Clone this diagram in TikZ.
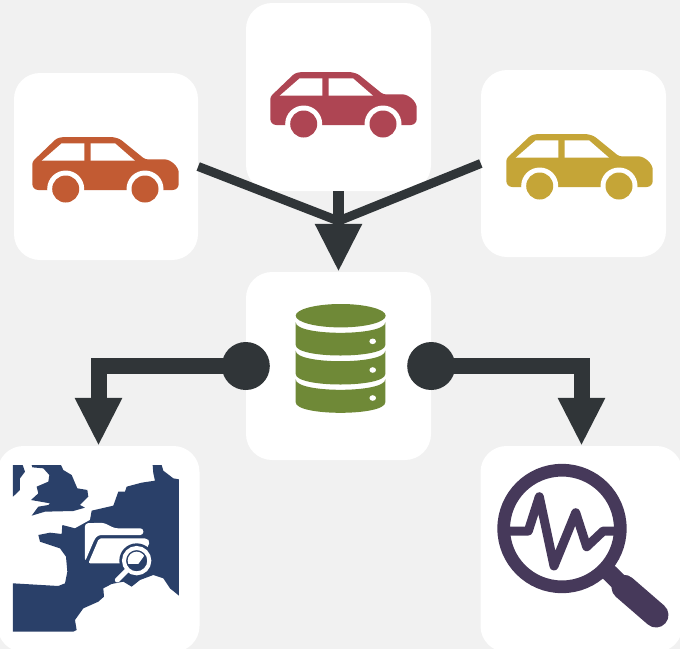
\documentclass[tikz,border=0pt]{standalone}
\usepackage{amsmath,amssymb}
\usetikzlibrary{arrows.meta}
\definecolor{pagegray}{HTML}{F1F1F1}
\definecolor{arrowdark}{HTML}{303538}
\definecolor{caredorange}{HTML}{C25B33}
\definecolor{carred}{HTML}{AE4553}
\definecolor{caryellow}{HTML}{C5A537}
\definecolor{dbgreen}{HTML}{6F8937}
\definecolor{mapblue}{HTML}{2A4069}
\definecolor{lenspurple}{HTML}{46395A}
\tikzset{
  card/.style={fill=white, rounded corners=26pt, inner sep=0pt},
  dot/.style={circle, fill=arrowdark, minimum size=48pt, inner sep=0pt},
  thinfeed/.style={arrowdark, line width=9pt},
  fatarrow/.style={arrowdark, line width=16pt, -{Triangle[length=48pt,width=44pt]}},
  midarrow/.style={arrowdark, line width=11.7pt, -{Triangle[length=48pt,width=44pt]}},
  car/.pic={
    \fill[pic actions, rounded corners=2.5pt] (70,12) -- (93,12) -- (100,14)
      -- (125,34.3) -- (141.7,34.3) .. controls (151,34.3) and (158.7,42) .. (158.7,50)
      [rounded corners=6pt] -- (158.7,65) -- (12.3,65)
      [rounded corners=2.5pt] -- (12.3,36.7) -- (36.7,13.3) -- (43,12) -- cycle;
    \fill[white] (21.7,35.7) -- (41.7,18.3) -- (64.3,18.3) -- (64.3,35.7) -- cycle;
    \fill[white] (70.7,35.7) -- (70.7,18.3) -- (95,18.3) -- (115,35.7) -- cycle;
    \fill[white] (45.7,64) circle (18.5);
    \fill[white] (125,64) circle (18.5);
    \fill[pic actions] (45.7,64) circle (13.5);
    \fill[pic actions] (125,64) circle (13.5);
  }
}
\begin{document}
\begin{tikzpicture}[x=1pt, y=-1pt]

    \fill[pagegray] (0,0) rectangle (680,649);
    \useasboundingbox (0,0) rectangle (680,649);

    \node[card, minimum width=184pt, minimum height=187pt] (carone) at (106, 166.5) {};
    \node[card, minimum width=185pt, minimum height=188pt] (cartwo) at (338.5, 97) {};
    \node[card, minimum width=185pt, minimum height=187pt] (carthree) at (573.5, 163.5) {};
    \node[card, minimum width=185pt, minimum height=188pt] (db) at (338.5, 366) {};
    \begin{scope}
      \clip (0,0) rectangle (680,649);
      \node[card, minimum width=202pt, minimum height=206pt] (map) at (98.5, 549) {};
      \node[card, minimum width=202pt, minimum height=206pt] (lens) at (581.5, 549) {};
    \end{scope}

    \pic[caredorange] at (20,125) {car};
    \pic[carred] at (258,60) {car};
    \pic[caryellow] at (494,122) {car};

    % stacked disks
    \fill[dbgreen] (340.7,315.7) ellipse (45 and 11.7);
    \fill[dbgreen] (295.7,322.3) .. controls (295.7,336.3) and (385.3,336.3) .. (385.3,322.3) -- (385.3,345) .. controls (385.3,359) and (295.7,359) .. (295.7,345) -- cycle;
    \fill[dbgreen] (295.7,350.7) .. controls (295.7,364.7) and (385.3,364.7) .. (385.3,350.7) -- (385.3,374) .. controls (385.3,388) and (295.7,388) .. (295.7,374) -- cycle;
    \fill[dbgreen] (295.7,379.3) .. controls (295.7,393.3) and (385.3,393.3) .. (385.3,379.3) -- (385.3,402.3) .. controls (385.3,416.3) and (295.7,416.3) .. (295.7,402.3) -- cycle;
    \fill[white] (372.7,341.3) ellipse (3.3 and 2.8);
    \fill[white] (372.7,370) ellipse (3.3 and 2.8);
    \fill[white] (372.7,398) ellipse (3.3 and 2.8);

    % map, traced at three times the size
    \begin{scope}[shift={(0,440)}, x=0.3333pt, y=-0.3333pt]
      \fill[mapblue] (39,75) -- (68,75) -- (75,95) -- (60,115) -- (60,150) -- (39,170) -- cycle;
      \fill[mapblue] (95,75) -- (183,75) -- (190,90) -- (215,105) -- (232,145) -- (262,150) -- (265,170) -- (240,195) -- (255,203) -- (220,213) -- (135,215) -- (95,227) -- (115,200) -- (145,195) -- (150,190) -- (93,180) -- (115,160) -- (110,140) -- (145,125) -- (148,105) -- (130,85) -- (97,82) -- cycle;
      \fill[mapblue] (458,75) -- (485,75) -- (490,92) -- (520,115) -- (537,118) -- (537,467) -- (510,445) -- (490,415) -- (460,405) -- (420,420) -- (395,440) -- (370,425) -- (335,432) -- (310,445) -- (312,470) -- (295,485) -- (250,505) -- (225,540) -- (230,570) -- (220,575) -- (39,575) -- (39,430) -- (175,438) -- (195,430) -- (202,395) -- (198,350) -- (180,325) -- (120,305) -- (115,285) -- (150,278) -- (185,282) -- (187,255) -- (225,265) -- (270,240) -- (275,212) -- (340,197) -- (355,155) -- (375,155) -- (380,140) -- (425,128) -- (465,122) -- (460,100) -- cycle;
      \fill[white, rounded corners=3pt] (255,250) -- (310,248) -- (345,265) -- (430,265) -- (430,285) -- (295,285) -- (285,295) -- (255,365) -- cycle;
      \fill[white, rounded corners=2pt] (265,370) -- (297,295) -- (440,295) -- (450,305) -- (420,370) -- cycle;
      \fill[mapblue] (410,362) circle (52);
      \draw[white, line width=4pt] (410,362) circle (38);
      \begin{scope}
        \clip (410,362) circle (27);
        \fill[white] (370,330) -- (445,330) -- (415,372) -- (370,372) -- cycle;
      \end{scope}
      \draw[white, line width=5pt, line cap=round] (380,392) -- (352,420);
    \end{scope}

    % magnifier
    \draw[lenspurple, line width=12.7pt] (562,528.5) circle (58.3);
    \draw[lenspurple, line width=9pt, line join=round] (510,531) -- (528.3,531) -- (539.3,496.7) -- (554,566) -- (575.7,512.7) -- (586.7,546.7) -- (603.3,531) -- (614.3,531);
    \draw[lenspurple, line width=17.5pt] (608.3,571.7) -- (624,587);
    \draw[lenspurple, line width=25pt, line cap=round] (624,587.3) -- (656,615);

    \node[dot] (dotleft) at (db.west) {};
    \node[dot] (dotright) at (db.east) {};
    \coordinate (hub) at (338.5, 221);

    \draw [thinfeed] (carone.east) to (hub);
    \draw [thinfeed] (carthree.west) to (hub);
    \draw [midarrow] (cartwo.south) to (db.north);
    \draw [fatarrow] (dotleft.center) -| (map.north);
    \draw [fatarrow] (dotright.center) -| (lens.north);

\end{tikzpicture}
\end{document}
